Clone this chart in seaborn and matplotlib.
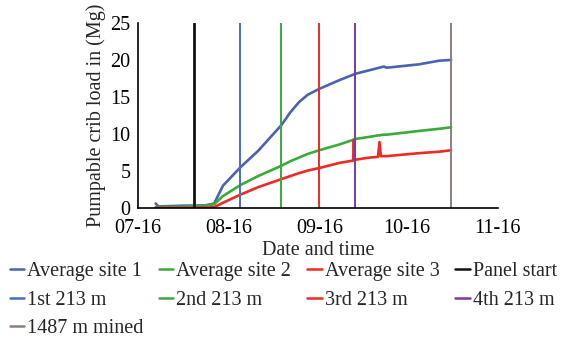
import matplotlib
matplotlib.use("Agg")
import matplotlib.pyplot as plt
from matplotlib.lines import Line2D
import seaborn as sns
import pandas as pd

# ---- data ----
dates = ["2013-07-22 00:00", "2013-07-23 00:00", "2013-07-31 00:00", "2013-08-08 00:00",
         "2013-08-11 00:00", "2013-08-14 00:00", "2013-08-20 00:00", "2013-08-26 00:00",
         "2013-09-03 00:00", "2013-09-06 00:00", "2013-09-09 00:00", "2013-09-12 00:00",
         "2013-09-16 00:00", "2013-09-23 00:00",
         "2013-09-27 12:00", "2013-09-27 18:00", "2013-09-28 00:00", "2013-10-03 00:00",
         "2013-10-06 00:00", "2013-10-06 12:00", "2013-10-07 00:00", "2013-10-08 00:00",
         "2013-10-09 00:00", "2013-10-20 00:00", "2013-10-27 00:00", "2013-10-31 00:00"]
site1 = [0.6, 0.2, 0.3, 0.35, 0.6, 3.0, 5.5, 7.7, 11.2, 12.9, 14.3, 15.3, 16.1, 17.3,
         18.0, 18.05, 18.1, 18.6, 18.9, 18.95, 19.0, 19.1, 18.95, 19.4, 19.9, 20.0]
site2 = [0.1, 0.1, 0.15, 0.3, 0.5, 1.6, 3.1, 4.3, 5.7, 6.3, 6.8, 7.3, 7.8, 8.6,
         9.2, 9.25, 9.3, 9.6, 9.8, 9.8, 9.85, 9.9, 9.9, 10.4, 10.7, 10.9]
site3 = [0.0, 0.0, 0.0, 0.05, 0.1, 0.7, 1.8, 2.8, 3.9, 4.3, 4.7, 5.05, 5.4, 6.1,
         6.4, 9.2, 6.5, 6.8, 6.9, 8.9, 7.0, 7.0, 7.0, 7.4, 7.6, 7.8]
series_names = ["Average site 1", "Average site 2", "Average site 3"]
series_colors = ["#4a62b0", "#3aaa3a", "#ee2a24"]

event_names = ["Panel start", "1st 213 m", "2nd 213 m", "3rd 213 m", "4th 213 m", "1487 m mined"]
event_dates = ["2013-08-04", "2013-08-20", "2013-09-03", "2013-09-16", "2013-09-28", "2013-10-31"]
event_colors = ["#111111", "#4a6fc0", "#3aaa3a", "#ee2a24", "#7a3aa0", "#8a7f7a"]

xtick_dates = ["2013-07-16", "2013-08-16", "2013-09-16", "2013-10-16", "2013-11-16"]
xtick_labels = ["07-16", "08-16", "09-16", "10-16", "11-16"]
yticks = [0, 5, 10, 15, 20, 25]

# ---- build long table ----
df = pd.DataFrame({
    "date": pd.to_datetime(dates * 3, format="%Y-%m-%d %H:%M"),
    "load": site1 + site2 + site3,
    "series": sum([[n] * len(dates) for n in series_names], []),
})

sns.set_style("white")
plt.rcParams["font.family"] = ["Liberation Serif", "DejaVu Serif"]
FS = 14.5
plt.rcParams["font.size"] = FS

fig = plt.figure(figsize=(5.73, 3.37), dpi=100)
ax = fig.add_axes([0.241, 0.383, 0.628, 0.549])

sns.lineplot(data=df, x="date", y="load", hue="series", palette=series_colors,
             hue_order=series_names, linewidth=1.9, ax=ax, legend=False, sort=False)

for d, c, n in zip(event_dates, event_colors, event_names):
    ax.axvline(pd.Timestamp(d), color=c, linewidth=2.0 if n == "Panel start" else 1.4)

ax.set_xlim(pd.Timestamp(xtick_dates[0]), pd.Timestamp(xtick_dates[-1]))
ax.set_ylim(0, 25)
ax.set_xticks([pd.Timestamp(d) for d in xtick_dates])
ax.set_xticklabels(xtick_labels)
ax.set_yticks(yticks)
ax.tick_params(width=1, labelsize=FS, colors="black")
ax.tick_params(axis="x", direction="in", length=4, pad=8)
ax.tick_params(axis="y", direction="out", length=4, pad=1.5)
ax.set_xlabel("Date and time", fontsize=FS, labelpad=2)
ax.set_ylabel("Pumpable crib load in (Mg)", fontsize=FS, labelpad=3)
for s in ["top", "right"]:
    ax.spines[s].set_visible(False)
for s in ["left", "bottom"]:
    ax.spines[s].set_color("black")
    ax.spines[s].set_linewidth(1.2)

# legend (order arranged so column-major fill gives row layout of reference)
h = {}
for n, c in zip(series_names, series_colors):
    h[n] = Line2D([], [], color=c, linewidth=1.8)
for n, c in zip(event_names, event_colors):
    h[n] = Line2D([], [], color=c, linewidth=1.8)
order = ["Average site 1", "1st 213 m", "1487 m mined",
         "Average site 2", "2nd 213 m",
         "Average site 3", "3rd 213 m",
         "Panel start", "4th 213 m"]
fig.legend([h[o] for o in order], order, loc="upper left", bbox_to_anchor=(0.017, 0.222),
           ncol=4, frameon=False, fontsize=FS, handlelength=0.7, handletextpad=0.15,
           columnspacing=0.8, labelspacing=0.47, borderaxespad=0, borderpad=0)

fig.savefig("out.png", dpi=100)
